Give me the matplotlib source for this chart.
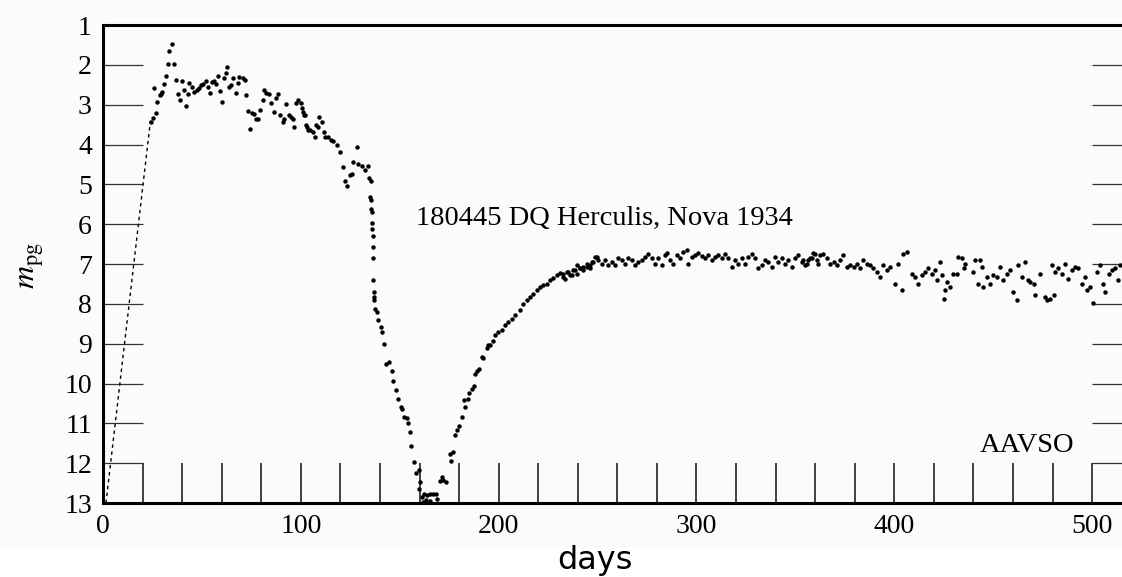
import numpy as np
import matplotlib.pyplot as plt

plt.rcParams['font.family'] = ['Liberation Serif', 'DejaVu Serif']
plt.rcParams['mathtext.fontset'] = 'stix'

# dashed rise (extrapolated part of the light curve)
rise_days = [1.5, 24.0]
rise_mags = [13.0, 3.4]

# early maximum, days 24 - 104
max_days = [24.4, 25.1, 25.8, 26.6, 27.5, 28.6, 29.2, 30.0, 30.8, 31.8, 32.7, 33.4,
            34.7, 36.1, 36.7, 38.1, 38.9, 39.8, 41.0, 42.0, 43.1, 43.6, 44.8, 46.0,
            47.35, 48.5, 49.5, 50.7, 52.1, 53.3, 54.1, 55.1, 56.3, 57.1, 58.1, 59.1,
            60.2, 61.2, 62.0, 62.9, 63.7, 64.7, 65.9, 67.2, 68.2, 68.9, 70.6, 71.6,
            72.1, 73.5, 74.3, 75.3, 76.3, 77.2, 78.4, 79.4, 80.7, 81.4, 82.6, 83.7,
            84.9, 86.4, 87.3, 88.3, 89.6, 90.8, 91.7, 92.5, 93.9, 94.9, 95.9, 96.6,
            97.4, 98.7, 99.9, 100.9, 102.1, 103.1, 103.8]
max_mags = [3.43, 3.33, 2.58, 3.22, 2.94, 2.76, 2.72, 2.68, 2.47, 2.28, 1.99, 1.65,
            1.48, 1.99, 2.37, 2.72, 2.88, 2.40, 2.63, 3.02, 2.72, 2.45, 2.55, 2.68,
            2.62, 2.57, 2.51, 2.47, 2.40, 2.55, 2.70, 2.44, 2.40, 2.47, 2.28, 2.65,
            2.94, 2.34, 2.20, 2.06, 2.55, 2.51, 2.32, 2.70, 2.45, 2.30, 2.34, 2.38,
            2.76, 3.15, 3.62, 3.22, 3.24, 3.37, 3.37, 3.14, 2.88, 2.63, 2.70, 2.73,
            2.95, 3.18, 2.84, 2.72, 3.26, 3.43, 3.35, 2.98, 3.26, 3.30, 3.37, 3.55,
            2.95, 2.88, 2.95, 3.18, 3.26, 3.55, 3.64]

# decline before the dust dip, days 100 - 137
decl_days = [100.4, 101.6, 102.6, 104.7, 106.0, 107.2, 107.7, 108.9, 109.4, 110.6,
             111.7, 112.2, 113.9, 115.1, 116.5, 118.1, 119.8, 121.2, 122.4, 123.2,
             124.9, 125.7, 126.6, 128.2, 129.1, 130.8, 132.5, 134.1, 134.6, 135.3,
             135.0, 135.3, 135.7, 135.8, 136.0, 136.2, 136.3, 136.3, 136.7, 136.7,
             137.0, 137.0]
decl_mags = [3.09, 3.26, 3.51, 3.64, 3.68, 3.81, 3.51, 3.55, 3.30, 3.43,
             3.68, 3.81, 3.82, 3.89, 3.91, 4.01, 4.18, 4.56, 4.91, 5.05,
             4.77, 4.73, 4.43, 4.07, 4.48, 4.54, 4.64, 4.54, 4.85, 4.91,
             5.31, 5.40, 5.61, 5.69, 5.98, 6.11, 6.30, 6.57, 6.84, 7.41,
             7.70, 7.83]

# deep minimum, days 137 - 195
dip_days = [137.2, 137.5, 138.3, 139.2, 140.4, 140.9, 142.0, 143.1, 144.7, 145.9,
            146.8, 148.1, 149.3, 150.5, 151.0, 152.2, 153.5, 154.3, 155.2, 155.7,
            157.2, 158.2, 159.6, 160.2, 159.9, 161.1, 162.3, 164.0, 165.3, 167.0,
            168.3, 168.7, 163.3, 165.3, 161.6, 170.4, 171.2, 172.0, 173.4, 175.4,
            177.1, 175.9, 177.9, 178.8, 180.1, 181.3, 183.0, 182.5, 184.7, 185.2,
            186.4, 187.5, 188.0, 189.2, 190.2, 191.4, 192.3, 194.0, 194.8]
dip_mags = [7.91, 8.12, 8.20, 8.41, 8.58, 8.70, 9.01, 9.52, 9.46, 9.68,
            9.94, 10.17, 10.38, 10.59, 10.63, 10.84, 10.86, 10.99, 11.22, 11.57,
            11.97, 12.25, 12.18, 12.47, 12.64, 12.85, 12.78, 12.81, 12.77, 12.78,
            12.77, 12.89, 12.93, 12.95, 12.97, 12.45, 12.35, 12.41, 12.47, 11.78,
            11.72, 11.95, 11.30, 11.16, 11.07, 10.84, 10.60, 10.42, 10.40, 10.24,
            10.13, 10.05, 9.75, 9.68, 9.63, 9.33, 9.37, 9.10, 9.04]

# recovery, days 195 - 250
rec_days = [195.7, 197.4, 198.2, 199.9, 201.6, 203.3, 204.9, 206.6, 208.3, 210.8,
            212.5, 214.2, 215.9, 217.6, 219.3, 221.0, 222.6, 224.3, 226.0, 227.7,
            229.4, 231.1, 232.7, 234.4, 236.1, 237.8, 239.5, 241.2, 242.9, 244.5,
            246.2, 247.9, 249.6]
rec_mags = [9.04, 8.92, 8.79, 8.71, 8.66, 8.54, 8.45, 8.37, 8.29, 8.16,
            8.00, 7.91, 7.83, 7.74, 7.66, 7.58, 7.53, 7.49, 7.41, 7.34,
            7.28, 7.22, 7.32, 7.20, 7.28, 7.16, 7.24, 7.11, 7.16, 7.07,
            7.03, 6.95, 6.82]

# plateau, days 232 - 362
plat_days = [232.7, 233.5, 235.2, 236.9, 238.6, 239.4, 241.1, 242.8, 244.5, 246.2,
             247.0, 248.7, 250.4, 252.1, 253.7, 255.4, 257.1, 258.8, 260.5, 262.2,
             263.9, 265.5, 267.2, 268.9, 270.6, 272.3, 274.0, 275.7, 277.3, 279.0,
             280.7, 282.4, 284.1, 284.9, 286.6, 288.3, 290.0, 291.7, 293.3, 295.0,
             295.9, 297.6, 299.2, 300.9, 302.6, 304.3, 306.0, 307.7, 309.4, 311.0,
             312.7, 314.4, 316.1, 317.8, 319.5, 321.1, 322.8, 324.5, 326.2, 327.9,
             329.6, 331.3, 332.9, 334.6, 336.3, 338.0, 339.7, 341.4, 343.1, 344.7,
             346.4, 348.1, 349.8, 351.5, 353.2, 354.8, 356.5, 358.2, 359.9, 361.6]
plat_mags = [7.24, 7.37, 7.20, 7.28, 7.16, 7.03, 7.11, 7.07, 6.99, 7.11,
             6.95, 6.82, 6.91, 6.99, 6.91, 7.03, 6.95, 7.03, 6.86, 6.91,
             6.99, 6.86, 6.91, 7.03, 6.95, 6.91, 6.82, 6.74, 6.86, 6.99,
             6.86, 7.03, 6.78, 6.72, 6.91, 6.99, 6.78, 6.86, 6.70, 6.65,
             7.01, 6.82, 6.78, 6.72, 6.80, 6.86, 6.78, 6.91, 6.82, 6.78,
             6.86, 6.74, 6.86, 7.07, 6.91, 6.99, 6.86, 6.99, 6.82, 6.74,
             6.86, 7.11, 7.03, 6.91, 6.95, 7.07, 6.82, 6.95, 6.86, 6.99,
             6.91, 7.07, 6.86, 6.78, 6.95, 7.03, 6.91, 6.86, 6.74, 6.99]

# late scatter, days 354 - 515
late_days = [354.1, 355.8, 357.5, 359.1, 360.8, 362.5, 364.2, 365.9, 367.6, 369.3,
             370.9, 372.6, 374.3, 376.0, 377.7, 379.4, 381.0, 382.7, 384.4, 386.1,
             387.8, 389.5, 391.2, 392.8, 394.5, 396.2, 397.9, 400.4, 402.1, 403.8,
             404.6, 406.3, 408.8, 410.5, 412.2, 413.9, 415.6, 417.3, 418.9, 420.6,
             421.5, 423.2, 424.0, 424.9, 425.7, 426.5, 428.2, 429.9, 431.6, 432.4,
             434.1, 435.0, 435.8, 440.0, 440.9, 443.4, 444.2, 442.5, 445.1, 446.8,
             448.4, 450.1, 451.8, 453.5, 455.2, 456.9, 458.6, 460.2, 461.9, 462.8,
             464.5, 466.1, 467.8, 468.7, 470.4, 471.2, 473.7, 476.2, 477.1, 478.8,
             480.5, 479.6, 481.3, 483.0, 484.7, 486.4, 488.0, 489.7, 491.4, 493.1,
             494.8, 496.5, 497.3, 499.0, 500.7, 502.4, 504.1, 505.7, 506.6, 508.3,
             510.0, 511.6, 513.3, 514.2]
late_mags = [6.91, 6.99, 6.86, 6.72, 6.91, 6.78, 6.74, 6.86, 6.99, 6.95,
             7.03, 6.91, 6.78, 7.07, 7.03, 7.07, 6.99, 7.11, 6.91, 6.99,
             7.03, 7.11, 7.20, 7.32, 7.03, 7.16, 7.07, 7.49, 6.99, 7.66,
             6.74, 6.70, 7.24, 7.32, 7.49, 7.28, 7.20, 7.11, 7.24, 7.16,
             7.41, 6.95, 7.28, 7.89, 7.66, 7.45, 7.57, 7.24, 7.24, 6.82,
             6.86, 7.11, 6.99, 7.20, 6.91, 6.89, 7.07, 7.49, 7.57, 7.32,
             7.49, 7.28, 7.32, 7.07, 7.41, 7.24, 7.16, 7.70, 7.91, 7.03,
             7.32, 6.95, 7.41, 7.45, 7.49, 7.78, 7.24, 7.83, 7.91, 7.87,
             7.78, 7.03, 7.20, 7.11, 7.24, 6.99, 7.37, 7.16, 7.07, 7.11,
             7.49, 7.32, 7.66, 7.57, 7.99, 7.20, 7.03, 7.49, 7.70, 7.24,
             7.16, 7.11, 7.41, 7.03]

x_major = [0, 100, 200, 300, 400, 500]
x_labels = ['0', '100', '200', '300', '400', '500']
y_major = list(range(1, 14))

days = np.concatenate([max_days, decl_days, dip_days, rec_days, plat_days, late_days])
mags = np.concatenate([max_mags, decl_mags, dip_mags, rec_mags, plat_mags, late_mags])

fig = plt.figure(figsize=(11.22, 5.77), dpi=100)
# scanned page is a touch off-white, the strip under it is pure white
fig.patches.append(plt.Rectangle((0, 0.052), 1, 0.948, transform=fig.transFigure,
                                 facecolor='#fbfbfb', edgecolor='none', zorder=-10))
# right part of the frame runs off the scanned page
ax = fig.add_axes([0.0918, 0.1282, 0.9168, 0.8284])
ax.set_facecolor('none')

ax.plot(rise_days, rise_mags, color='black', lw=1.0, ls=(0, (2.5, 2.5)))
ax.plot(days, mags, 'o', color='black', ms=3.2, mew=0)

ax.set_xlim(0, 520)
ax.set_ylim(13, 1)

ax.set_xticks(x_major)
ax.set_xticklabels(x_labels)
ax.set_xticks(np.arange(20, 520, 20), minor=True)
ax.set_yticks(y_major)
ax.set_yticklabels([str(v) for v in y_major])

ax.tick_params(axis='x', which='both', direction='in', length=28.5, width=1.2,
               labelsize=20, pad=8, color='#222222')
ax.tick_params(axis='y', direction='in', length=28.5, width=0.9, labelsize=20,
               pad=8, right=True, color='#333333')
ax.get_yticklines()[0].set_visible(False)
ax.get_yticklines()[1].set_visible(False)

for side in ['left', 'bottom', 'top']:
    ax.spines[side].set_linewidth(2.2)
ax.spines['right'].set_linewidth(1.5)

ax.text(158, 5.85, '180445 DQ Herculis, Nova 1934', fontsize=20.5, va='center', ha='left')
ax.text(443, 11.55, 'AAVSO', fontsize=20.5, va='center', ha='left')

fig.text(0.028, 0.54, r'$m_{\mathrm{pg}}$', fontsize=23, rotation=90, va='center', ha='center')
fig.text(0.530, 0.029, 'days', fontsize=23, family='DejaVu Sans', va='center', ha='center')

fig.savefig('out.png', dpi=100)
